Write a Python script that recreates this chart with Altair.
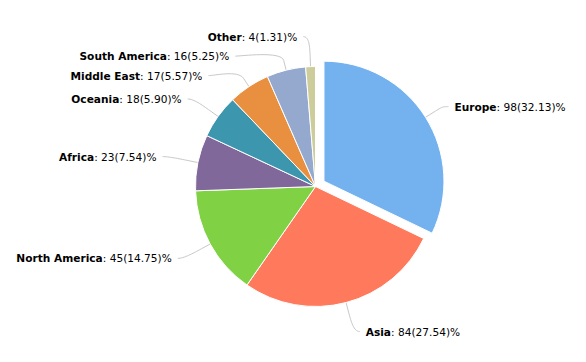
import math
import altair as alt
import pandas as pd

# ---- data ----
regions = ["Europe", "Asia", "North America", "Africa", "Oceania",
           "Middle East", "South America", "Other"]
counts = [98, 84, 45, 23, 18, 17, 16, 4]
colors = ["#74b1ef", "#ff7a5c", "#80d244", "#80689b", "#3c96ae",
          "#e8903f", "#95a9cf", "#cdcd9b"]
sliced = ["Europe"]

# ---- layout / style ----
W, H = 570, 346
CX, CY = 307.5, 178.5        # pie centre inside the view (px)
R = 120                      # pie radius
LABEL_DIST = 30
SLICE_OFFSET = 10
CONNECTOR_OFFSET = 10
LABEL_GAP = 12
LINE_H = 19.5
FONT = "DejaVu Sans"
FS = 10.6

TOTAL = sum(counts)

# DejaVu Sans advance widths (em)
BOLD_W = {" ": .348, "A": .774, "E": .683, "M": .974, "N": .837, "O": .850,
          "S": .718, "a": .675, "c": .593, "d": .716, "e": .678, "f": .435,
          "h": .712, "i": .343, "l": .343, "m": 1.042, "n": .712, "o": .687,
          "p": .716, "r": .493, "s": .595, "t": .478, "u": .712}
REG_W = {c: .636 for c in "0123456789"}
REG_W.update({"(": .391, ")": .391, ".": .318, "%": .950, ":": .337, " ": .318})


def tw(s, table):
    return sum(table.get(ch, .6) for ch in s) * FS


rows, lab = [], []
cum = 0
for reg, c in zip(regions, counts):
    start, end = cum, cum + c
    cum = end
    mid = (start + end) / 2 / TOTAL * 2 * math.pi
    off = SLICE_OFFSET if reg in sliced else 0
    ox, oy = off * math.sin(mid), off * math.cos(mid)
    rows.append({"region": reg, "start": start, "end": end, "cx": ox, "cy": oy})
    lab.append({"region": reg, "mid": mid, "ox": ox, "oy": oy,
                "value": f": {c}({c / TOTAL * 100:.2f})%",
                "ny": (R + LABEL_DIST) * math.cos(mid),
                "right": math.sin(mid) >= 0})

arcs = pd.DataFrame(rows)

# label distribution (push overlapping labels downward)
RL = R + LABEL_DIST
for side in (True, False):
    items = sorted([l for l in lab if l["right"] == side], key=lambda l: -l["ny"])
    prev = None
    for l in items:
        y = l["ny"] if prev is None else min(l["ny"], prev - LINE_H)
        l["y"] = y
        prev = y
        xx = math.sqrt(max(RL * RL - y * y, 0))
        l["x"] = xx if side else -xx

label_rows, conn_rows = [], []
for l in lab:
    sgn = 1 if l["right"] else -1
    x, y = l["x"], l["y"]
    s, co = math.sin(l["mid"]), math.cos(l["mid"])
    ex, ey = R * s + l["ox"], R * co + l["oy"]
    bx, by = (R + CONNECTOR_OFFSET) * s + l["ox"], (R + CONNECTOR_OFFSET) * co + l["oy"]
    p0 = (x + sgn * 6, y)
    p1 = (x, y)
    p2 = (2 * bx - ex, 2 * by - ey)
    p3 = (bx, by)
    k = 0
    n = 16
    for i in range(n + 1):
        t = i / n
        a, b, c2, d = (1 - t) ** 3, 3 * (1 - t) ** 2 * t, 3 * (1 - t) * t ** 2, t ** 3
        conn_rows.append({"region": l["region"], "k": k,
                          "x": a * p0[0] + b * p1[0] + c2 * p2[0] + d * p3[0],
                          "y": a * p0[1] + b * p1[1] + c2 * p2[1] + d * p3[1]})
        k += 1
    conn_rows.append({"region": l["region"], "k": k, "x": ex, "y": ey})
    tx = x + sgn * LABEL_GAP
    if l["right"]:
        jx = tx + tw(l["region"], BOLD_W)
    else:
        jx = tx - tw(l["value"], REG_W)
    label_rows.append({"region": l["region"], "value": l["value"],
                       "jx": jx, "ty": y - 1})

conns = pd.DataFrame(conn_rows)
labels = pd.DataFrame(label_rows)

xs = alt.Scale(domain=[-CX, W - CX], nice=False, zero=False)
ys = alt.Scale(domain=[-(H - CY), CY], nice=False, zero=False)

pie = alt.Chart(arcs).mark_arc(radius=R, stroke="white", strokeWidth=1).encode(
    x=alt.X("cx:Q", scale=xs, axis=None),
    y=alt.Y("cy:Q", scale=ys, axis=None),
    theta=alt.Theta("start:Q", scale=alt.Scale(domain=[0, TOTAL])),
    theta2="end:Q",
    color=alt.Color("region:N", scale=alt.Scale(domain=regions, range=colors), legend=None),
)

lines = alt.Chart(conns).mark_line(color="#c8c8c8", strokeWidth=1).encode(
    x=alt.X("x:Q", scale=xs, axis=None),
    y=alt.Y("y:Q", scale=ys, axis=None),
    detail="region:N",
    order="k:Q",
)

names = alt.Chart(labels).mark_text(
    font=FONT, fontSize=FS, fontWeight="bold", align="right", baseline="middle", color="#000000"
).encode(
    x=alt.X("jx:Q", scale=xs, axis=None),
    y=alt.Y("ty:Q", scale=ys, axis=None),
    text="region:N",
)

values = alt.Chart(labels).mark_text(
    font=FONT, fontSize=FS, fontWeight="normal", align="left", baseline="middle", color="#000000"
).encode(
    x=alt.X("jx:Q", scale=xs, axis=None),
    y=alt.Y("ty:Q", scale=ys, axis=None),
    text="value:N",
)

chart = alt.layer(lines, pie, names, values).properties(
    width=W, height=H, padding=0, background="white"
).configure_view(stroke=None)

chart.save("out.html", embed_options={"renderer": "svg", "actions": False})
